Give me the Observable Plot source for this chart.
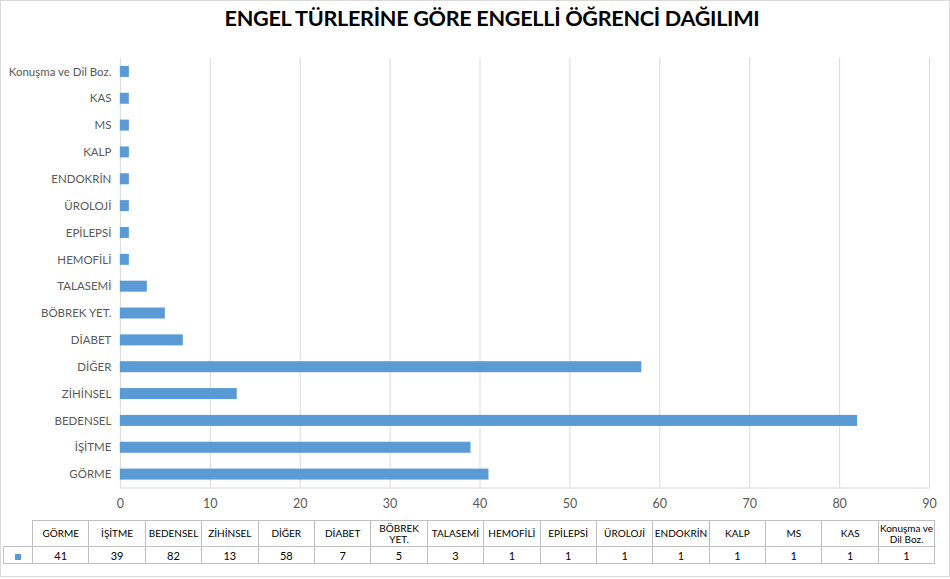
<!DOCTYPE html>
<html>
<head>
<meta charset="utf-8">
<script src="https://cdn.jsdelivr.net/npm/d3@7"></script>
<script src="https://cdn.jsdelivr.net/npm/@observablehq/plot@0.6"></script>
<style>
  html, body { margin: 0; padding: 0; background: #fff; }
  #wrap { position: relative; width: 948px; height: 575px; border: 1px solid #d9d9d9; background: #fff; overflow: hidden; font-family: Lato, "Open Sans", sans-serif; }
  #title { position: absolute; left: 17px; top: 4px; width: 948px; text-align: center; font-weight: bold; font-size: 21.6px; color: #000; letter-spacing: -0.3px; }
  #chart { position: absolute; left: -1px; top: 39px; }
  #tbl { position: absolute; left: 2px; top: 519px; border-collapse: collapse; table-layout: fixed; font-size: 10px; color: #000; }
  #tbl td { border: 1px solid #bfbfbf; text-align: center; padding: 0; overflow: hidden; }
  #tbl tr.h td { height: 25px; line-height: 11px; }
  #tbl tr.d td { height: 16px; font-size: 11px; }
  #tbl td.blank { border: none; }
  .sw { display: inline-block; width: 6px; height: 6px; background: #5b9bd5; }
</style>
</head>
<body>
<div id="wrap">
  <div id="title"></div>
  <div id="chart"></div>
  <table id="tbl"></table>
</div>
<script>
const title = "ENGEL TÜRLERİNE GÖRE ENGELLİ ÖĞRENCİ DAĞILIMI";
const categories = ["GÖRME", "İŞİTME", "BEDENSEL", "ZİHİNSEL", "DİĞER", "DİABET", "BÖBREK YET.", "TALASEMİ", "HEMOFİLİ", "EPİLEPSİ", "ÜROLOJİ", "ENDOKRİN", "KALP", "MS", "KAS", "Konuşma ve Dil Boz."];
const values = [41, 39, 82, 13, 58, 7, 5, 3, 1, 1, 1, 1, 1, 1, 1, 1];
const xTicks = [0, 10, 20, 30, 40, 50, 60, 70, 80, 90];

document.getElementById("title").textContent = title;

const data = categories.map((c, i) => ({cat: c, value: values[i]}));
const order = categories.slice().reverse();

const chart = Plot.plot({
  width: 950,
  height: 473,
  marginLeft: 120,
  marginRight: 20,
  marginTop: 18,
  marginBottom: 25,
  style: {fontFamily: "Lato, 'Open Sans', sans-serif", fontSize: "11.5px", color: "#595959", background: "transparent"},
  x: {domain: [0, 90], ticks: xTicks, label: null},
  y: {domain: order, label: null, paddingInner: 0.59, paddingOuter: 0.295, round: false},
  marks: [
    Plot.gridX(xTicks, {stroke: "#d9d9d9", strokeOpacity: 1}),
    Plot.frame({anchor: "bottom", stroke: "#d9d9d9"}),
    Plot.barX(data, {x: "value", y: "cat", fill: "#5b9bd5"}),
    Plot.axisX({ticks: xTicks, tickSize: 0, tickPadding: 11, label: null, fontSize: 12.5, tickFormat: d => String(d)}),
    Plot.axisY({tickSize: 0, tickPadding: 9, label: null})
  ]
});
document.getElementById("chart").appendChild(chart);

const tbl = document.getElementById("tbl");
const colgroup = document.createElement("colgroup");
const c0 = document.createElement("col"); c0.style.width = "29px"; colgroup.appendChild(c0);
categories.forEach(() => { const c = document.createElement("col"); c.style.width = "56.4px"; colgroup.appendChild(c); });
tbl.appendChild(colgroup);
const hr = document.createElement("tr"); hr.className = "h";
const hb = document.createElement("td"); hb.className = "blank"; hr.appendChild(hb);
categories.forEach(c => { const td = document.createElement("td"); td.textContent = c; hr.appendChild(td); });
tbl.appendChild(hr);
const dr = document.createElement("tr"); dr.className = "d";
const ds = document.createElement("td"); ds.innerHTML = '<span class="sw"></span>'; dr.appendChild(ds);
values.forEach(v => { const td = document.createElement("td"); td.textContent = v; dr.appendChild(td); });
tbl.appendChild(dr);
</script>
</body>
</html>
